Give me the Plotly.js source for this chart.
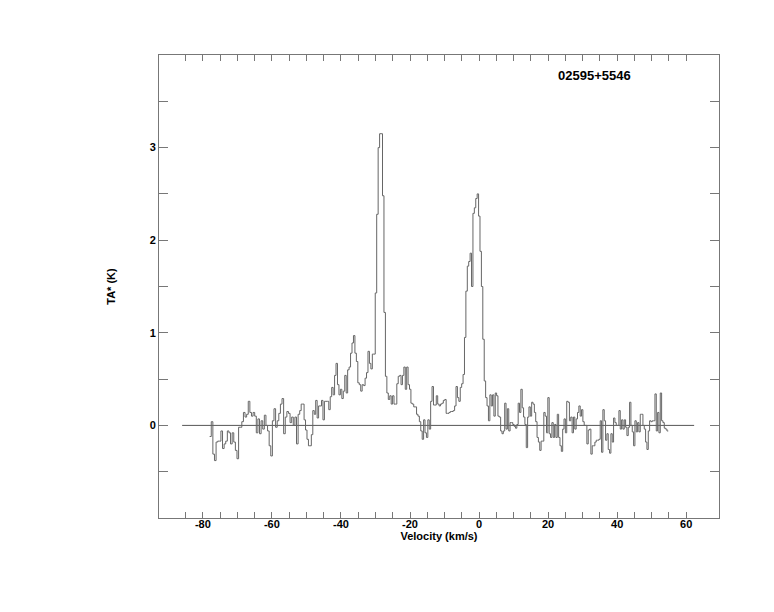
<!DOCTYPE html>
<html>
<head>
<meta charset="utf-8">
<script src="https://cdn.plot.ly/plotly-3.0.1.min.js"></script>
<style>html,body{margin:0;padding:0;background:#fff;}#plot{width:774px;height:612px;}</style>
</head>
<body>
<div id="plot"></div>
<script>
// Source name
const sourceName = "02595+5546";

// Velocity edges (km/s) of the five read-off spectrum segments
const segEdges = [-78.03, -51.94, -25.86, 3.13, 29.3, 54.81];

// Antenna temperature TA* (K) per channel, segment by segment
const tA = [-0.12, 0.04, -0.31, -0.38, -0.18, -0.17, -0.17, -0.06, -0.25, -0.20,
  -0.17, -0.06, -0.08, -0.20, -0.08, -0.18, -0.27, -0.36, -0.02, -0.02,
  0.04, 0.14, 0.09, 0.12, 0.26, 0.14, 0.10, 0.14, 0.10, -0.08,
  0.07, -0.09, 0.05, -0.04, 0.11, 0.00, -0.06, -0.22, -0.33, 0.05,
  0.18, -0.02, 0.05, 0.13, 0.23, 0.29, -0.09, 0.09, 0.15, 0.13,
  0.03, 0.09, 0.00, 0.09, -0.20, 0.12];
const tB = [0.16, 0.23, 0.23, 0.06, -0.05, -0.15, -0.22, -0.22, -0.10, 0.16,
  0.12, 0.27, 0.08, 0.21, 0.21, 0.27, 0.06, 0.26, 0.26, 0.26,
  0.17, 0.31, 0.41, 0.33, 0.54, 0.67, 0.44, 0.33, 0.39, 0.29,
  0.37, 0.54, 0.35, 0.60, 0.63, 0.78, 0.89, 0.97, 0.78, 0.69,
  0.46, 0.44, 0.37, 0.44, 0.43, 0.51, 0.57, 0.80, 0.67, 0.61,
  0.77, 0.77, 1.43, 2.28, 3.00, 3.15, 3.15, 2.48, 1.22, 0.53,
  0.35, 0.28];
const tC = [0.32, 0.23, 0.32, 0.23, 0.23, 0.45, 0.53, 0.54, 0.44, 0.54,
  0.63, 0.39, 0.63, 0.44, 0.39, 0.24, 0.23, 0.20, 0.20, 0.12,
  0.10, 0.04, -0.06, -0.15, 0.06, -0.08, -0.13, 0.06, -0.04, 0.26,
  0.42, 0.22, 0.22, 0.32, 0.23, 0.21, 0.23, 0.24, 0.27, 0.28,
  0.13, 0.13, 0.14, 0.15, 0.15, 0.16, 0.21, 0.42, 0.30, 0.26,
  0.41, 0.45, 0.55, 0.95, 1.45, 1.72, 1.77, 1.86, 1.50, 2.29,
  2.35, 2.45, 2.50, 2.26, 1.88, 1.50, 0.93, 0.48, 0.30, 0.21, 0.05];
const tD = [0.33, 0.21, 0.33, 0.10, 0.35, 0.32, 0.10, 0.09, -0.06, -0.09,
  -0.06, 0.24, -0.04, 0.18, -0.06, 0.03, 0.03, 0.01, -0.01, -0.03,
  0.01, 0.24, 0.14, 0.39, 0.19, 0.09, 0.01, -0.24, 0.09, 0.20,
  0.10, 0.25, 0.23, 0.14, 0.04, -0.13, -0.18, -0.27, -0.17, -0.17,
  0.14, 0.10, -0.08, 0.30, -0.09, -0.13, 0.03, -0.13, 0.01, -0.13,
  0.12, -0.13, -0.22, -0.28, -0.04, 0.07, -0.08, 0.26, 0.25, 0.05,
  0.09, -0.08, 0.09, -0.04, 0.07, 0.14, 0.21];
const tE = [0.10, 0.17, 0.04, 0.00, 0.00, -0.20, -0.05, -0.04, -0.31, -0.22,
  -0.22, -0.18, -0.16, -0.16, -0.15, 0.05, -0.29, 0.17, 0.05, -0.16,
  -0.09, -0.26, -0.30, -0.09, -0.18, 0.08, 0.03, 0.00, 0.00, 0.16,
  -0.04, 0.06, -0.04, 0.06, -0.02, -0.11, -0.02, 0.25, 0.00, -0.07,
  -0.22, 0.05, -0.07, 0.03, -0.07, 0.12, 0.12, 0.00, -0.04, -0.18,
  -0.26, -0.06, 0.05, 0.04, 0.05, 0.05, 0.34, -0.06, 0.14, -0.08,
  0.35, 0.05, 0.03, -0.03, -0.04, -0.06];

// Baseline extent (km/s)
const baseX = [-86.0, 62.3];
const baseY = [0, 0];

// Axis ticks
const xTickVals = [-85,-80,-75,-70,-65,-60,-55,-50,-45,-40,-35,-30,-25,-20,-15,-10,-5,0,5,10,15,20,25,30,35,40,45,50,55,60];
const xTickText = xTickVals.map(v => (v % 20 === 0 ? String(v) : ""));
const yTickVals = [-0.5, 0, 0.5, 1, 1.5, 2, 2.5, 3, 3.5];
const yTickText = ["", "0", "", "1", "", "2", "", "3", ""];

// Build channel edges for a step (histogram) line
const segs = [tA, tB, tC, tD, tE];
const vx = [], ty = [];
segs.forEach((s, k) => {
  const w = (segEdges[k + 1] - segEdges[k]) / s.length;
  s.forEach((t, i) => { vx.push(segEdges[k] + i * w); ty.push(t); });
});
vx.push(segEdges[segEdges.length - 1]);
ty.push(tE[tE.length - 1]);

const font = {family: "Liberation Sans, Arial, sans-serif", size: 11, color: "#000", weight: "bold"};
const labelFont = {family: "Liberation Sans, Arial, sans-serif", size: 13, color: "#000", weight: "bold"};

const traces = [
  {x: baseX, y: baseY, mode: "lines", line: {color: "#555", width: 1}, hoverinfo: "skip", showlegend: false},
  {x: vx, y: ty, mode: "lines", line: {shape: "hv", color: "#666", width: 1}, showlegend: false}
];

const layout = {
  width: 774, height: 612,
  margin: {l: 159, r: 55, t: 55, b: 94},
  paper_bgcolor: "#fff", plot_bgcolor: "#fff",
  showlegend: false,
  font: font,
  xaxis: {
    range: [-92.7, 69.5],
    tickvals: xTickVals, ticktext: xTickText,
    ticks: "inside", ticklen: 6, tickcolor: "#777", tickwidth: 1,
    ticklabelstandoff: -4,
    showline: true, linecolor: "#777", linewidth: 1, mirror: "ticks",
    showgrid: false, zeroline: false,
    tickfont: font,
    title: {text: "Velocity (km/s)", font: font, standoff: 1}
  },
  yaxis: {
    range: [-1, 4],
    tickvals: yTickVals, ticktext: yTickText,
    ticks: "inside", ticklen: 9, tickcolor: "#777", tickwidth: 1,
    showline: true, linecolor: "#777", linewidth: 1, mirror: "ticks",
    showgrid: false, zeroline: false,
    tickfont: font,
    title: {text: "TA* (K)", font: font, standoff: 31}
  },
  annotations: [
    {text: sourceName, x: 33.4, y: 3.78, xref: "x", yref: "y", showarrow: false, font: labelFont}
  ]
};

Plotly.newPlot("plot", traces, layout, {displayModeBar: false, staticPlot: true});
</script>
</body>
</html>
